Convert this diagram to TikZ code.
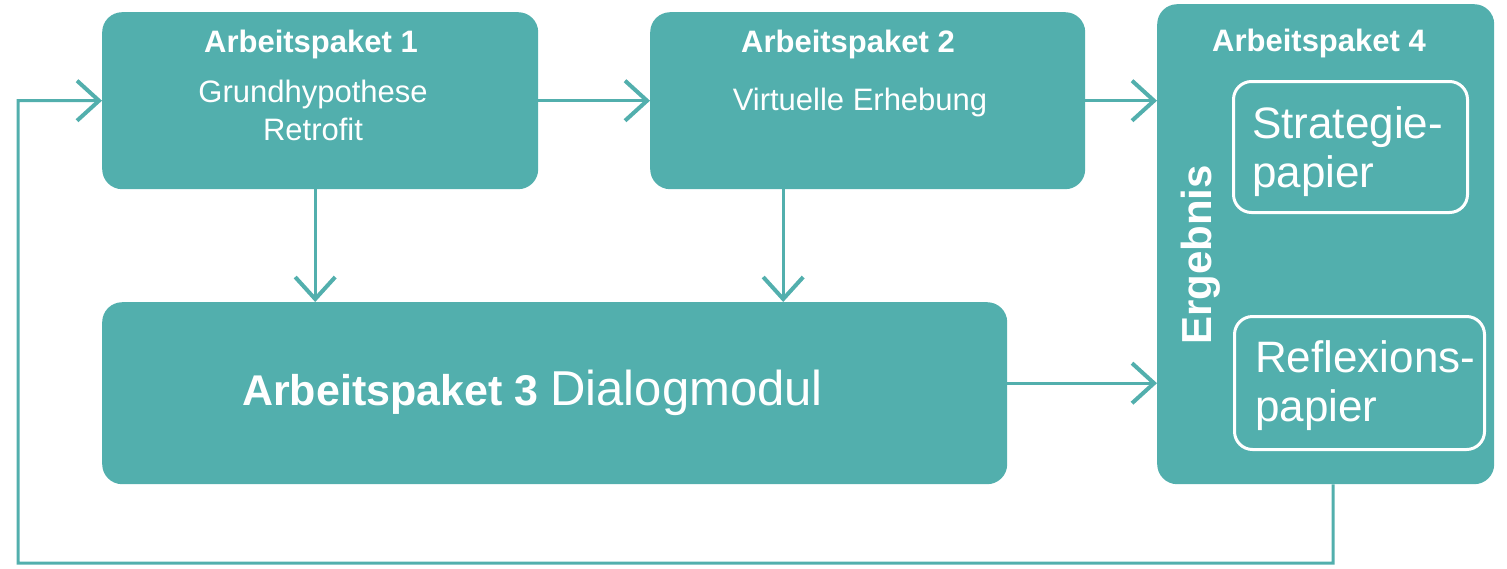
\documentclass[tikz,border=0pt]{standalone}
\usepackage{fontspec}
\setmainfont{Liberation Sans}
\usetikzlibrary{arrows.meta}
\definecolor{teal1}{HTML}{52AFAD}
\begin{document}
\begin{tikzpicture}[x=1pt,y=-1pt,
  box/.style={fill=teal1,draw=none,rounded corners=20pt,anchor=north west,inner sep=0pt},
  inbox/.style={draw=white,line width=3pt,rounded corners=18pt,anchor=north west,inner sep=0pt},
  conn/.style={draw=teal1,line width=3pt},
  arr/.style={conn,-{Straight Barb[length=22pt,width=40pt,line width=4pt]}},
  ttl/.style={text=white,font=\fontsize{31}{37}\selectfont\bfseries,anchor=base,inner sep=0pt},
  sub/.style={text=white,font=\fontsize{31}{37}\selectfont,anchor=base,inner sep=0pt},
  big/.style={text=white,font=\fontsize{44}{49}\selectfont,align=left,anchor=north west,inner sep=0pt}]
\useasboundingbox (0,0) rectangle (1507,568);
% boxes
\node[box,minimum width=436pt,minimum height=177pt] (ap1) at (102,12) {};
\node[box,minimum width=435pt,minimum height=177pt] (ap2) at (650,12) {};
\node[box,minimum width=905pt,minimum height=182pt] (ap3) at (102,302) {};
\node[box,minimum width=337pt,minimum height=480pt] (ap4) at (1157,4) {};
\node[inbox,minimum width=234pt,minimum height=131pt] (s1) at (1232,80) {};
\node[inbox,minimum width=250pt,minimum height=133pt] (s2) at (1233,315) {};
% texts
\node[ttl] (t1) at (311,52) {Arbeitspaket 1};
\node[sub] (t1a) at (313,102) {Grundhypothese};
\node[sub] (t1b) at (313,140) {Retrofit};
\node[ttl] (t2) at (848,52) {Arbeitspaket 2};
\node[sub] (t2a) at (860,110) {Virtuelle Erhebung};
\node[ttl] (t4) at (1319,51) {Arbeitspaket 4};
\node[text=white,font=\fontsize{42}{48}\selectfont\bfseries,rotate=90,inner sep=0pt] (erg) at (1201,255) {Ergebnis};
\node[text=white,anchor=base west,inner sep=0pt] (t3) at (242,405) {\fontsize{43}{48}\selectfont\bfseries Arbeitspaket 3 \fontsize{49}{54}\selectfont\mdseries Dialogmodul};
\node[big] (s1t) at (1252,106) {Strategie-\\papier};
\node[big] (s2t) at (1255,340) {Reflexions-\\papier};
% connectors
\coordinate (fbr) at (1333,563);
\coordinate (fbl) at (18,563);
\draw[arr] (ap1.east) -- (ap1.east -| ap2.west);
\draw[arr] (ap2.east) -- (ap2.east -| ap4.west);
\draw[arr] ([xshift=-5pt]ap1.south) -- ([xshift=-5pt]ap1.south |- ap3.north);
\draw[arr] ([xshift=-84.5pt]ap2.south) -- ([xshift=-84.5pt]ap2.south |- ap3.north);
\draw[arr] ([yshift=10pt]ap3.east) -- ([yshift=10pt]ap3.east -| ap4.west);
\draw[arr] ([xshift=7.5pt]ap4.south) -- (fbr) -- (fbl) |- (ap1.west);
\end{tikzpicture}
\end{document}
